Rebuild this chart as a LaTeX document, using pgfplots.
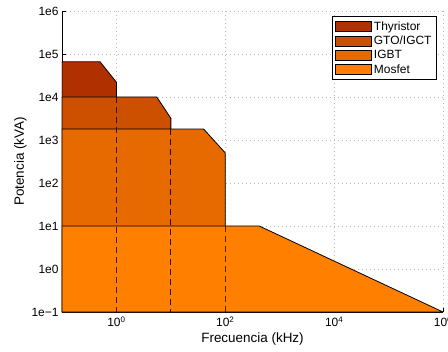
\documentclass[border=0pt]{standalone}
\usepackage{fontspec}
\setmainfont{Liberation Sans}
\usepackage{pgfplots}
\pgfplotsset{compat=1.18}
\usetikzlibrary{calc}

\definecolor{thy}{RGB}{176,48,0}
\definecolor{gto}{RGB}{204,80,0}
\definecolor{igbt}{RGB}{230,106,0}
\definecolor{mos}{RGB}{255,128,0}

\begin{document}
\begin{tikzpicture}
\begin{axis}[
  name=ax,
  width=381bp, height=301bp, scale only axis,
  xmode=log, ymode=log,
  xmin=0.1, xmax=1e6, ymin=0.1, ymax=1e6,
  axis x line*=bottom, axis y line*=left,
  axis line style={black, line width=0.8bp},
  tick align=inside,
  major tick length=4bp,
  tick style={black, line width=0.6bp},
  xminorticks=false, yminorticks=false,
  xtick={1,100,1e4,1e6},
  xticklabels={10\textsuperscript{0},10\textsuperscript{2},10\textsuperscript{4},10\textsuperscript{6}},
  ytick={0.1,1,10,100,1e3,1e4,1e5,1e6},
  yticklabels={1e−1,1e0,1e1,1e2,1e3,1e4,1e5,1e6},
  ticklabel style={font=\fontsize{12}{14}\selectfont},
  xticklabel style={yshift=-1bp},
  grid=major,
  major grid style={gray!55, line width=0.7bp, dash pattern=on 1bp off 3bp},
  xlabel={Frecuencia (kHz)},
  ylabel={Potencia (kVA)},
  label style={font=\fontsize{13.5}{16}\selectfont},
  xlabel style={yshift=1bp},
  ylabel style={yshift=-2bp},
  legend cell align=left,
  legend style={at={(0.984,0.983)}, anchor=north east,
    font=\fontsize{12}{13}\selectfont, draw=black, line width=0.8bp,
    inner xsep=3bp, inner ysep=3bp, row sep=0.3bp},
  legend image code/.code={\draw[#1, line width=0.8bp] (0bp,-5bp) rectangle (36bp,5bp);},
]
% operating regions, each filled down to the bottom of the plot
\addplot[fill=thy, draw=black, line width=0.8bp]
  coordinates {(0.1,0.1) (0.1,6.6e4) (0.5,6.6e4) (1,2.2e4) (1,0.1)} -- cycle;
\addlegendentry{Thyristor}
\addplot[fill=gto, draw=black, line width=0.8bp]
  coordinates {(0.1,0.1) (0.1,1e4) (5.5,1e4) (10,3.2e3) (10,0.1)} -- cycle;
\addlegendentry{GTO/IGCT}
\addplot[fill=igbt, draw=black, line width=0.8bp]
  coordinates {(0.1,0.1) (0.1,1.8e3) (40,1.8e3) (100,500) (100,0.1)} -- cycle;
\addlegendentry{IGBT}
\addplot[fill=mos, draw=black, line width=0.8bp]
  coordinates {(0.1,0.1) (0.1,10) (420,10) (1e6,0.1)} -- cycle;
\addlegendentry{Mosfet}
% hidden frequency limits
\addplot[forget plot, black, opacity=0.75, line width=1.1bp, dash pattern=on 6bp off 4bp]
  coordinates {(1,1e4) (1,0.1)};
\addplot[forget plot, black, opacity=0.85, line width=1.1bp, dash pattern=on 6bp off 4bp]
  coordinates {(10,1.8e3) (10,0.1)};
\addplot[forget plot, black, opacity=0.7, line width=1.1bp, dash pattern=on 6bp off 4bp]
  coordinates {(100,10) (100,0.1)};
\end{axis}
\pgfresetboundingbox
\useasboundingbox ($(ax.south west)+(-62bp,-40bp)$) rectangle ($(ax.north east)+(5bp,11bp)$);
\end{tikzpicture}
\end{document}
